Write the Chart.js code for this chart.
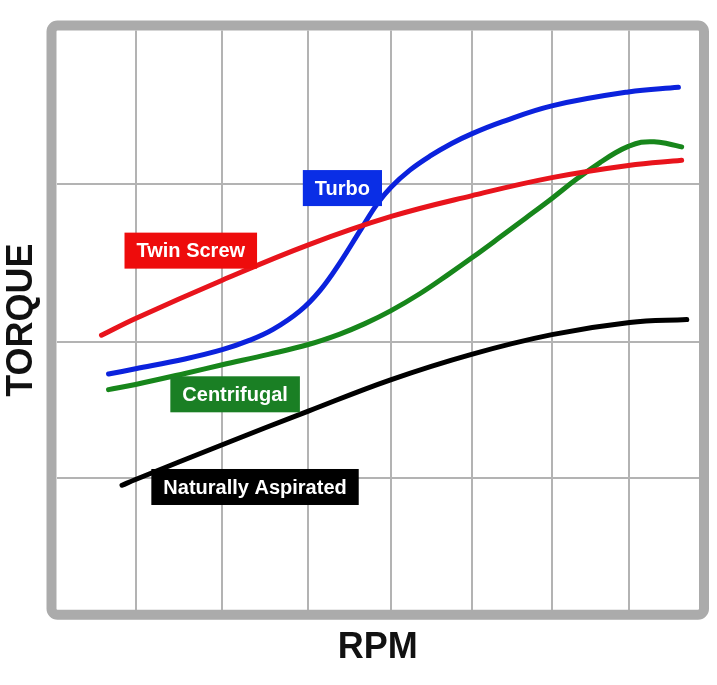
<!DOCTYPE html>
<html>
<head>
<meta charset="utf-8">
<script src="https://cdn.jsdelivr.net/npm/chart.js@4"></script>
<style>
  html, body { margin: 0; padding: 0; background: #fff; }
  #wrap { width: 717px; height: 685px; }
</style>
</head>
<body>
<div id="wrap"><canvas id="torqueChart" width="717" height="685"></canvas></div>
<script>
"use strict"

// grid positions (arbitrary rpm / torque units, no tick labels shown)
const rpmGrid = [123, 258, 392, 520, 647, 771, 891];
const torqueGrid = [22.8, 46.2, 73.5];

// curves
const twinScrewRpm    = [70, 123, 258, 392, 521, 647, 771, 890, 973];
const twinScrewTorque = [47.4, 50.3, 56.9, 63.0, 67.9, 71.5, 74.6, 76.7, 77.6];

const turboRpm    = [81, 123, 200, 258, 300, 337, 379, 410, 441, 475, 500, 521, 550, 581, 615, 647, 690, 771, 890, 968];
const turboTorque = [40.7, 41.6, 43.3, 44.9, 46.5, 48.4, 51.6, 55.1, 59.9, 65.9, 70.2, 73.0, 75.9, 78.3, 80.5, 82.2, 84.1, 87.0, 89.4, 90.2];

const centrifugalRpm    = [81, 123, 200, 258, 330, 392, 441, 480, 520, 566, 610, 647, 690, 730, 771, 810, 846, 870, 890, 910, 930, 950, 973];
const centrifugalTorque = [38.0, 38.9, 40.8, 42.3, 44.1, 45.8, 47.6, 49.4, 51.6, 54.6, 57.9, 60.8, 64.3, 67.6, 71.0, 74.4, 77.2, 78.9, 80.0, 80.7, 80.8, 80.5, 79.9];

const naturalRpm    = [102, 123, 258, 392, 520, 646, 771, 892, 981];
const naturalTorque = [21.5, 22.5, 28.5, 34.3, 39.7, 44.1, 47.5, 49.6, 50.1];

// tag boxes on the curves
const tagText  = ["Turbo", "Twin Screw", "Centrifugal", "Naturally Aspirated"];
const tagRpm   = [445, 209, 278, 309];
const tagTorque = [72.8, 62.0, 37.2, 21.2];
const tagColor = ["#0a2ee6", "#ee0c0c", "#1a7f24", "#000000"];

const lineColors = ["#0b22dd", "#e8141c", "#17861b", "#000000"];

function zip(xs, ys) {
    return xs.map((x, i) => ({ x: x, y: ys[i] }));
}

function makeSet(label, xs, ys, color) {
    return {
        label: label,
        data: zip(xs, ys),
        borderColor: color,
        borderWidth: 5,
        borderCapStyle: 'round',
        borderJoinStyle: 'round',
        pointRadius: 0,
        fill: false,
        tension: 0.4
    };
}

// thick grey rounded frame around the plot area
const framePlugin = {
    id: 'frame',
    afterDraw(chart) {
        const { ctx, chartArea: a } = chart;
        const w = 10;
        ctx.save();
        ctx.strokeStyle = '#ababab';
        ctx.lineWidth = w;
        ctx.beginPath();
        ctx.roundRect(a.left - w / 2, a.top - w / 2, a.right - a.left + w, a.bottom - a.top + w, 6);
        ctx.stroke();
        ctx.restore();
    }
};

// coloured label boxes
const tagPlugin = {
    id: 'tags',
    afterDatasetsDraw(chart) {
        const { ctx, scales } = chart;
        ctx.save();
        ctx.font = 'bold 20px "Liberation Sans", Arial, sans-serif';
        ctx.textAlign = 'center';
        ctx.textBaseline = 'middle';
        tagText.forEach((txt, i) => {
            const cx = scales.x.getPixelForValue(tagRpm[i]);
            const cy = scales.y.getPixelForValue(tagTorque[i]);
            const w = ctx.measureText(txt).width + 24;
            const h = 36;
            ctx.fillStyle = tagColor[i];
            ctx.fillRect(cx - w / 2, cy - h / 2, w, h);
            ctx.fillStyle = '#fff';
            ctx.fillText(txt, cx, cy + 1);
        });
        ctx.restore();
    }
};

const ctx = document.getElementById('torqueChart').getContext('2d');
new Chart(ctx, {
    type: 'line',
    data: {
        datasets: [
            makeSet('Twin Screw', twinScrewRpm, twinScrewTorque, lineColors[1]),
            makeSet('Centrifugal', centrifugalRpm, centrifugalTorque, lineColors[2]),
            makeSet('Naturally Aspirated', naturalRpm, naturalTorque, lineColors[3]),
            makeSet('Turbo', turboRpm, turboTorque, lineColors[0])
        ]
    },
    options: {
        responsive: false,
        animation: false,
        layout: { padding: { top: 30.5, right: 18, left: 0, bottom: 0 } },
        plugins: {
            legend: { display: false },
            tooltip: { enabled: false }
        },
        scales: {
            x: {
                type: 'linear',
                min: 0,
                max: 1000,
                afterBuildTicks: (axis) => { axis.ticks = rpmGrid.map(v => ({ value: v })); },
                ticks: { display: false },
                grid: { color: '#b3b3b3', lineWidth: 2, drawTicks: false },
                border: { display: false },
                title: {
                    display: true,
                    text: 'RPM',
                    color: '#111',
                    font: { family: '"Liberation Sans", Arial, sans-serif', size: 36, weight: 'bold' },
                    padding: { top: 17, bottom: 15 }
                }
            },
            y: {
                type: 'linear',
                min: 0,
                max: 100,
                afterBuildTicks: (axis) => { axis.ticks = torqueGrid.map(v => ({ value: v })); },
                ticks: { display: false },
                grid: { color: '#b3b3b3', lineWidth: 2, drawTicks: false },
                border: { display: false },
                title: {
                    display: true,
                    text: 'TORQUE',
                    color: '#111',
                    font: { family: '"Liberation Sans", Arial, sans-serif', size: 36, weight: 'bold' },
                    padding: { top: 0, bottom: 13.3 }
                }
            }
        }
    },
    plugins: [framePlugin, tagPlugin]
});
</script>
</body>
</html>
